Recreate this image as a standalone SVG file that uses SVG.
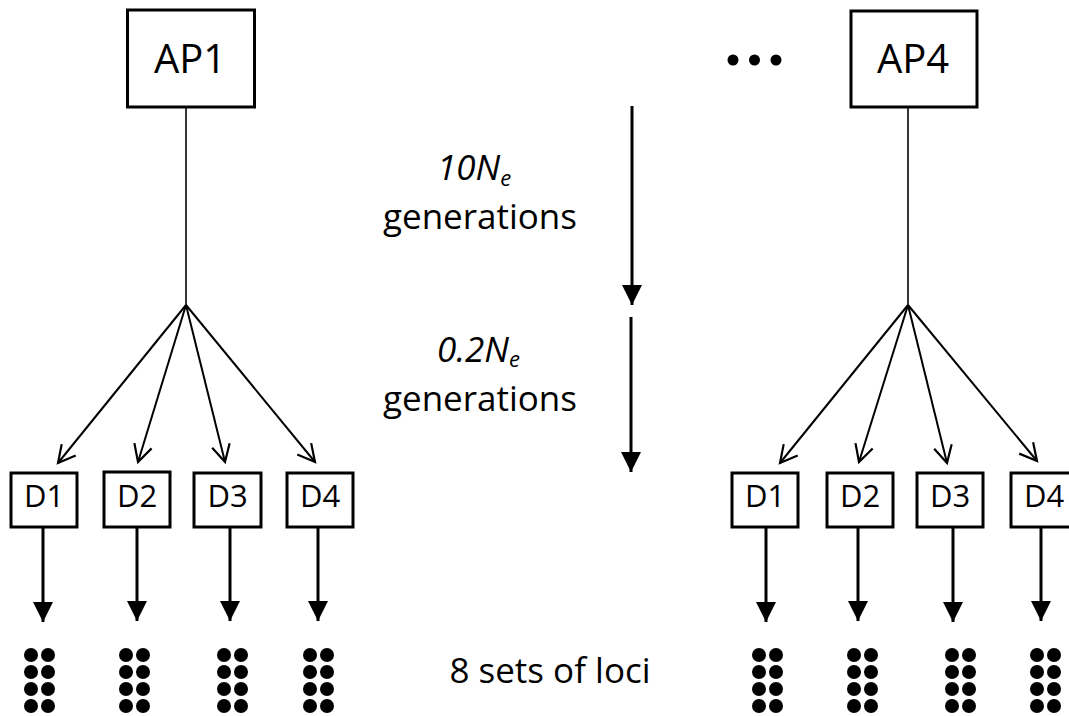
<svg xmlns="http://www.w3.org/2000/svg" width="1069" height="716" viewBox="0 0 1069 716">
<style>
.box{fill:#fff;stroke:#000;stroke-width:3}
.lbl{font-family:"Open Sans","Liberation Sans",sans-serif;fill:#000;text-anchor:middle}
.ap{font-size:40px}
.d{font-size:31px}
.txt{font-family:"Open Sans","Liberation Sans",sans-serif;fill:#000;font-size:35px}
.thin{stroke:#000;stroke-width:1.6;fill:none}
.fan{stroke:#000;stroke-width:2;fill:none;marker-end:url(#open)}
.bold{stroke:#000;stroke-width:3;fill:none;marker-end:url(#solid)}
.dot{fill:#000}
</style>
<defs>
<marker id="open" markerUnits="userSpaceOnUse" markerWidth="26" markerHeight="26" viewBox="-22 -13 26 26" refX="0" refY="0" orient="auto">
<path d="M-17,-9 L0,0 L-17,9" fill="none" stroke="#000" stroke-width="2.2" stroke-linejoin="miter"/>
</marker>
<marker id="solid" markerUnits="userSpaceOnUse" markerWidth="24" markerHeight="24" viewBox="-22 -12 24 24" refX="0" refY="0" orient="auto">
<path d="M-20,-10 L0,0 L-20,10 Z" fill="#000"/>
</marker>
<g id="col">
<circle cx="0" cy="0" r="7"/><circle cx="17" cy="0" r="7"/>
<circle cx="0" cy="17" r="7"/><circle cx="17" cy="17" r="7"/>
<circle cx="0" cy="34" r="7"/><circle cx="17" cy="34" r="7"/>
<circle cx="0" cy="51" r="7"/><circle cx="17" cy="51" r="7"/>
</g>
</defs>
<rect width="1069" height="716" fill="#fff"/>

<g id="connectors">
<line class="thin" x1="186" y1="107" x2="186" y2="305"/>
<line class="fan" x1="186" y1="305" x2="58" y2="463"/>
<line class="fan" x1="186" y1="305" x2="138" y2="462"/>
<line class="fan" x1="186" y1="305" x2="225" y2="462"/>
<line class="fan" x1="186" y1="305" x2="315" y2="462"/>
<line class="thin" x1="908" y1="107" x2="908" y2="305"/>
<line class="fan" x1="908" y1="305" x2="780" y2="463"/>
<line class="fan" x1="908" y1="305" x2="859" y2="462"/>
<line class="fan" x1="908" y1="305" x2="947" y2="463"/>
<line class="fan" x1="908" y1="305" x2="1037" y2="461"/>
<line class="bold" x1="43" y1="527" x2="43" y2="622"/>
<line class="bold" x1="137" y1="527" x2="137" y2="621"/>
<line class="bold" x1="230" y1="527" x2="230" y2="621"/>
<line class="bold" x1="318" y1="527" x2="318" y2="621"/>
<line class="bold" x1="766" y1="527" x2="766" y2="622"/>
<line class="bold" x1="858" y1="527" x2="858" y2="621"/>
<line class="bold" x1="953" y1="527" x2="953" y2="622"/>
<line class="bold" x1="1041" y1="527" x2="1041" y2="621"/>
<line class="bold" x1="632" y1="106" x2="632" y2="305"/>
<line class="bold" x1="631" y1="317" x2="631" y2="472"/>
</g>

<g id="AP1"><rect class="box" x="127.5" y="10" width="127" height="97"/><text class="lbl ap" x="190" y="73">AP1</text></g>
<g id="AP4"><rect class="box" x="851" y="11" width="126" height="96"/><text class="lbl ap" x="913" y="73">AP4</text></g>
<g id="ellipsis" class="dot"><circle cx="733" cy="60" r="5.5"/><circle cx="754.5" cy="60" r="5.5"/><circle cx="776" cy="60" r="5.5"/></g>

<g id="L-D1"><rect class="box" x="11" y="473" width="66" height="54"/><text class="lbl d" x="44" y="507">D1</text></g>
<g id="L-D2"><rect class="box" x="104" y="472" width="66" height="55"/><text class="lbl d" x="137" y="507">D2</text></g>
<g id="L-D3"><rect class="box" x="194" y="473" width="67" height="54"/><text class="lbl d" x="227.5" y="507">D3</text></g>
<g id="L-D4"><rect class="box" x="287" y="473" width="66" height="54"/><text class="lbl d" x="320" y="507">D4</text></g>
<g id="R-D1"><rect class="box" x="732" y="473" width="66" height="54"/><text class="lbl d" x="765" y="507">D1</text></g>
<g id="R-D2"><rect class="box" x="827" y="473" width="66" height="54"/><text class="lbl d" x="860" y="507">D2</text></g>
<g id="R-D3"><rect class="box" x="917" y="473" width="66" height="54"/><text class="lbl d" x="950" y="507">D3</text></g>
<g id="R-D4"><rect class="box" x="1011" y="473" width="66" height="54"/><text class="lbl d" x="1044" y="507">D4</text></g>

<g id="loci" class="dot">
<use href="#col" x="31" y="655"/>
<use href="#col" x="126" y="655"/>
<use href="#col" x="224" y="655"/>
<use href="#col" x="310" y="655"/>
<use href="#col" x="759" y="655"/>
<use href="#col" x="854" y="655"/>
<use href="#col" x="952" y="655"/>
<use href="#col" x="1037" y="655"/>
</g>

<g id="labels">
<text class="txt" x="437" y="180" font-style="italic">10N<tspan font-size="22" dy="6">e</tspan></text>
<text class="txt" x="480" y="229" text-anchor="middle">generations</text>
<text class="txt" x="437" y="362" font-style="italic">0.2N<tspan font-size="22" dy="5">e</tspan></text>
<text class="txt" x="480" y="411" text-anchor="middle">generations</text>
<text class="txt" x="550" y="683" text-anchor="middle">8 sets of loci</text>
</g>
</svg>
